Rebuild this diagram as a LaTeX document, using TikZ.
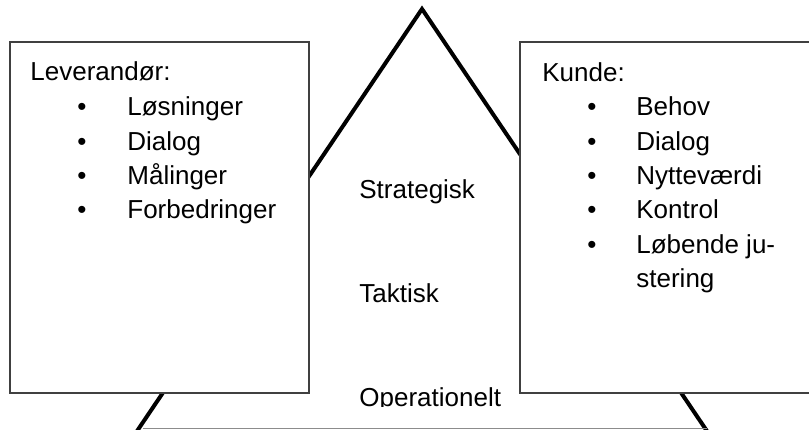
\documentclass[tikz,border=0pt]{standalone}
\usepackage{fontspec}
\setmainfont{Liberation Sans}

\begin{document}
\begin{tikzpicture}[x=0.5pt,y=-0.5pt,
    box/.style={draw=black!75, line width=0.75pt, fill=white},
    txt/.style={anchor=base west, inner sep=0pt, font=\fontsize{13}{15}\selectfont},
    dot/.style={anchor=base, inner sep=0pt, font=\fontsize{13}{15}\selectfont}]
        \useasboundingbox (0,0) rectangle (809,429);
        \clip (0,0) rectangle (809,429);

        % Roof of the house
        \draw[line width=2pt] (131,440) -- (422,9) -- (713,440);
        \draw[black!45, line width=0.5pt] (143,428) -- (707,428);

        % Boxes for the two parties
        \draw[box] (10,42) rectangle (309,393);
        \draw[box] (520,42) rectangle (815,393);

        % Leverandør list
        \node[txt] (lev) at (30,80) {Leverandør:};
        \foreach \word [count=\i] in {Løsninger, Dialog, Målinger, Forbedringer} {
            \node[dot] (lb\i) at (82,81.5+34.3*\i) {\textbullet};
            \node[txt] (l\i) at (127,81.5+34.3*\i) {\word};
        }

        % Kunde list
        \node[txt] (kunde) at (542,81.5) {Kunde:};
        \foreach \word [count=\i] in {Behov, Dialog, Nytteværdi, Kontrol, Løbende ju-} {
            \node[dot] (kb\i) at (592,81.5+34.3*\i) {\textbullet};
            \node[txt] (k\i) at (636,81.5+34.3*\i) {\word};
        }
        \node[txt] (k6) at (636,287) {stering};

        % Levels
        \node[txt] (strat) at (359,198) {Strategisk};
        \node[txt] (takt) at (359,302) {Taktisk};
        \begin{scope}
            \clip (340,370) rectangle (520,406);
            \node[txt] (oper) at (359,406.5) {Operationelt};
        \end{scope}
\end{tikzpicture}
\end{document}
